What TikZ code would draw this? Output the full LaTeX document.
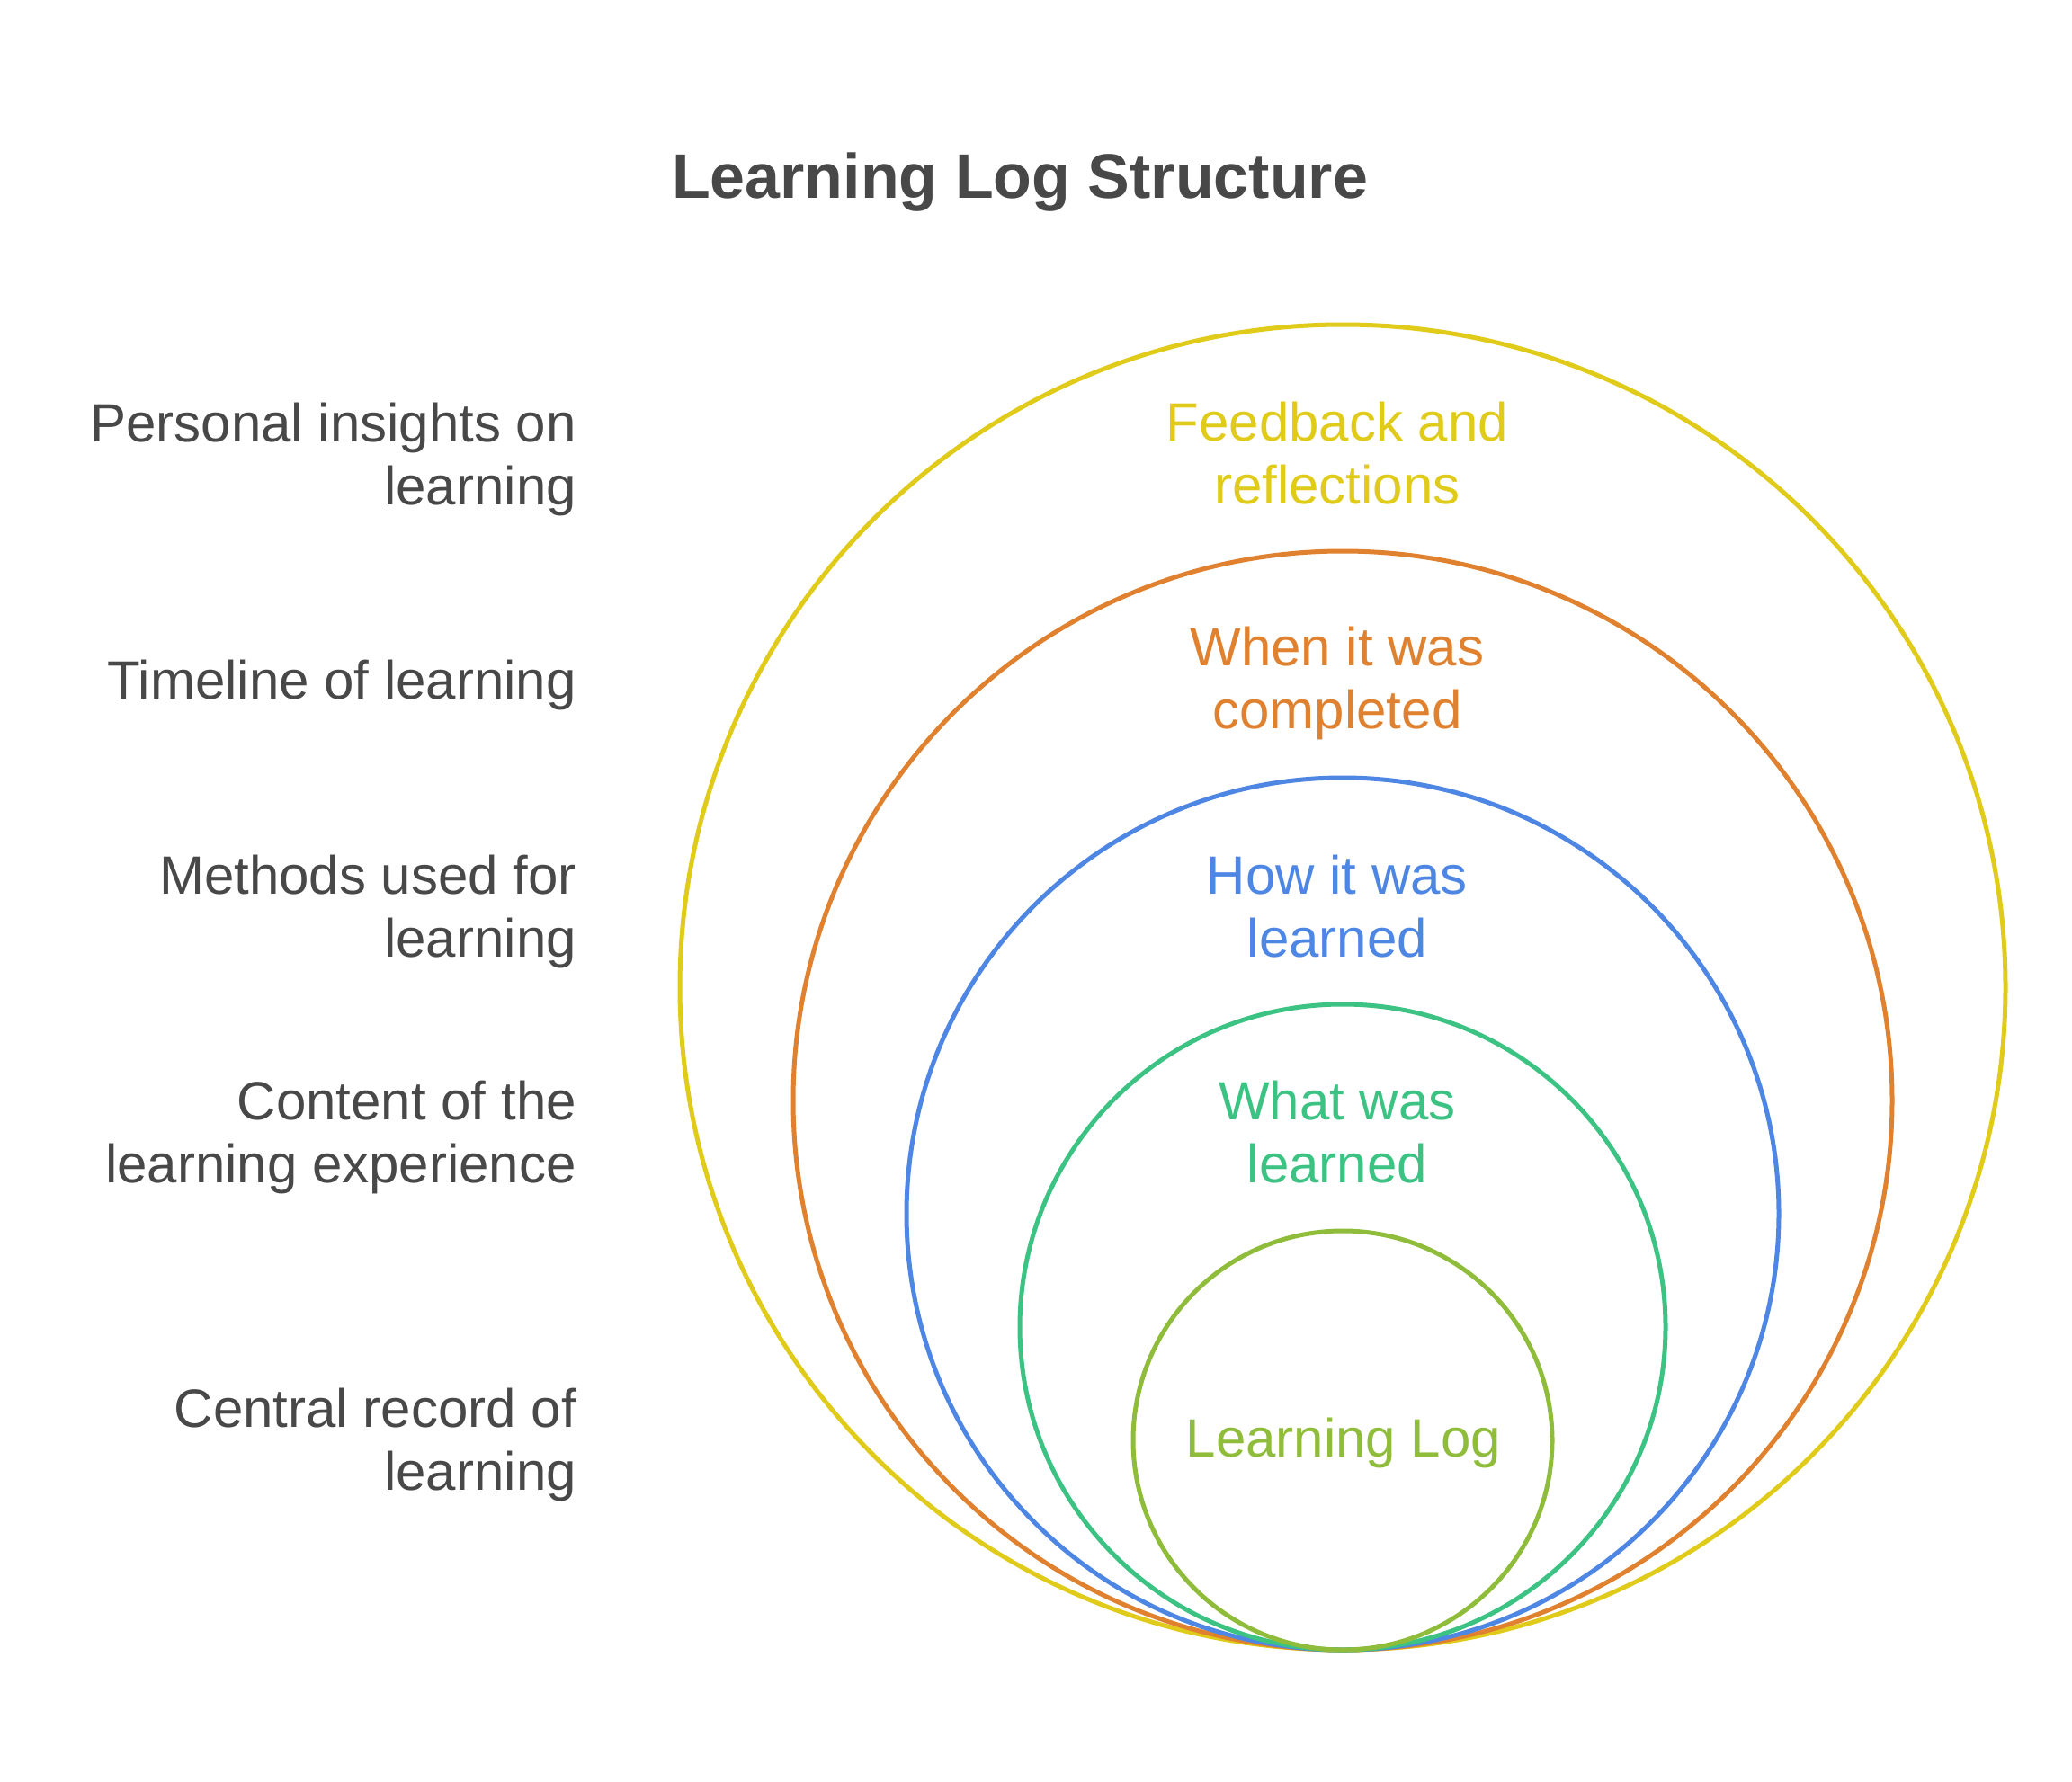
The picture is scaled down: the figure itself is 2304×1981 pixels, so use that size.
\documentclass[tikz,border=0pt]{standalone}
\usepackage{fontspec}
\setmainfont{Liberation Sans}
\definecolor{txt}{HTML}{484848}
\definecolor{cyel}{HTML}{E0CB1A}
\definecolor{corg}{HTML}{E0812F}
\definecolor{cblu}{HTML}{4E86E4}
\definecolor{cgrn}{HTML}{3CC383}
\definecolor{clim}{HTML}{8FBD3B}
\begin{document}
\begin{tikzpicture}[x=1pt,y=-1pt,
  ring/.style={circle,draw,line width=5pt,inner sep=0pt,outer sep=0pt},
  lbl/.style={inner sep=0pt,align=right,anchor=east,text=txt,font=\fontsize{60}{70.5}\selectfont},
  clbl/.style={inner sep=0pt,align=center,anchor=center,font=\fontsize{60}{70.5}\selectfont},
  ttl/.style={inner sep=0pt,anchor=center,text=txt,font=\bfseries\fontsize{70}{80}\selectfont}]
\useasboundingbox (0,0) rectangle (2304,1981);
\node[ttl] (title) at (1134,203) {Learning Log Structure};
% circles
\node[ring,draw=cyel,minimum size=1474pt] (c1) at (1493,1098) {};
\node[ring,draw=corg,minimum size=1222pt] (c2) at (1493,1224) {};
\node[ring,draw=cblu,minimum size=970pt] (c3) at (1493,1350) {};
\node[ring,draw=cgrn,minimum size=718pt] (c4) at (1493,1476) {};
\node[ring,draw=clim,minimum size=466pt] (c5) at (1493,1602) {};
% circle labels
\node[clbl,text=cyel] (t1) at (1487,504) {Feedback and\\reflections};
\node[clbl,text=corg] (t2) at (1487,760) {When it was\\completed};
\node[clbl,text=cblu] (t3) at (1487,1008) {How it was\\learned};
\node[clbl,text=cgrn] (t4) at (1487,1259) {What was\\learned};
\node[clbl,text=clim] (t5) at (1494,1605) {Learning Log};
% left labels
\node[lbl] (l1) at (641,511) {Personal insights on\\learning};
\node[lbl] (l2) at (641,762) {Timeline of learning};
\node[lbl] (l3) at (641,1014) {Methods used for\\learning};
\node[lbl] (l4) at (641,1265) {Content of the\\learning experience};
\node[lbl] (l5) at (641,1607) {Central record of\\learning};
\end{tikzpicture}
\end{document}
